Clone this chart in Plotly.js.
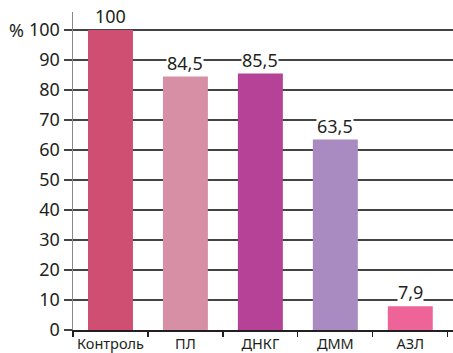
<!DOCTYPE html>
<html><head><meta charset="utf-8">
<script src="https://cdn.plot.ly/plotly-3.0.1.min.js"></script>
<style>html,body{margin:0;padding:0;background:#fff;}#chart{width:453px;height:353px;}</style>
</head><body><div id="chart"></div>
<script>
const categories = ["Контроль", "ПЛ", "ДНКГ", "ДММ", "АЗЛ"];
const values = [100, 84.5, 85.5, 63.5, 7.9];
const colors = ["#cf4f72", "#d78fa6", "#b54296", "#a98bc2", "#ee6499"];
const yTicks = [0, 10, 20, 30, 40, 50, 60, 70, 80, 90, 100];

const font = "Noto Sans, Open Sans, sans-serif";
const trace = {
  type: "bar", x: categories, y: values,
  marker: {color: colors, line: {width: 0}},
  hoverinfo: "none"
};
const annotations = categories.map((c, i) => ({
  x: c, y: values[i], xref: "x", yref: "y",
  text: String(values[i]).replace(".", ","),
  showarrow: false, yanchor: "bottom", yshift: 1,
  bgcolor: "#ffffff", borderpad: 0,
  font: {family: font, size: 18, color: "#231f20"}
}));
annotations.push({
  x: -0.15, y: 100, xref: "paper", yref: "y", text: "%",
  showarrow: false, xanchor: "center", yanchor: "middle",
  font: {family: font, size: 18, color: "#231f20"}
});
const layout = {
  width: 453, height: 353,
  margin: {l: 73, r: 0, t: 12, b: 23},
  paper_bgcolor: "#fff", plot_bgcolor: "#fff",
  showlegend: false, bargap: 0.4,
  separators: ", ",
  xaxis: {
    range: [-0.5, 4.57], tickson: "boundaries", ticks: "outside", ticklen: 5,
    tickcolor: "#231f20", tickwidth: 1.2, tickangle: 0,
    showline: true, linecolor: "#231f20", linewidth: 1.5,
    showgrid: false, zeroline: false,
    tickfont: {family: font, size: 14.5, color: "#231f20"}
  },
  yaxis: {
    range: [0, 106], tickvals: yTicks, ticktext: yTicks.map(String),
    ticks: "outside", ticklen: 8, tickcolor: "#444", tickwidth: 1.3,
    showgrid: true, gridcolor: "#444", gridwidth: 1.3,
    showline: true, linecolor: "#888", linewidth: 1.5,
    zeroline: false,
    tickfont: {family: font, size: 18, color: "#231f20"}
  },
  annotations: annotations
};
Plotly.newPlot("chart", [trace], layout, {displayModeBar: false, staticPlot: true});
</script></body></html>
